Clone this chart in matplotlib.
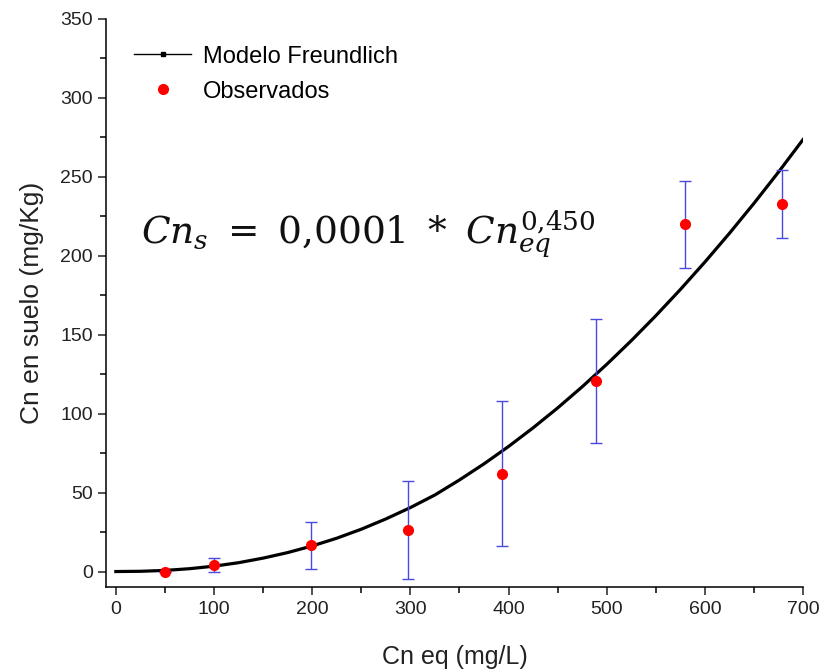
import matplotlib.pyplot as plt
from matplotlib.lines import Line2D
from matplotlib.ticker import MultipleLocator

# Observed adsorption data (mean and spread)
cn_eq_obs = [50, 100, 199, 298, 393, 489, 580, 679]
cn_suelo_obs = [0.0, 4.2, 16.5, 26.5, 62.0, 120.7, 220.0, 232.7]
cn_suelo_err = [0.0, 4.5, 15.0, 31.0, 46.0, 39.5, 27.5, 21.7]

# Freundlich model curve
cn_eq_model = [0, 25, 50, 75, 100, 125, 150, 175, 200, 225, 250, 275, 300, 325, 350,
               375, 400, 425, 450, 475, 500, 525, 550, 575, 600, 625, 650, 675, 700]
cn_suelo_model = [0.0, 0.15, 0.7, 1.8, 3.4, 5.6, 8.5, 12.0, 16.2, 21.1, 26.8, 33.3, 40.5, 48.5, 58.0,
                  68.2, 79.2, 91.0, 103.6, 117.0, 131.2, 146.2, 162.0, 178.6, 196.0, 214.2, 233.2, 253.0, 273.6]

plt.rcParams["font.family"] = ["Liberation Sans", "DejaVu Sans"]
plt.rcParams["mathtext.fontset"] = "dejavuserif"

fig = plt.figure(figsize=(8.22, 6.72), dpi=100)
ax = fig.add_axes([0.129, 0.126, 0.848, 0.846])

ax.plot(cn_eq_model, cn_suelo_model, color="black", lw=2.3, solid_joinstyle="round", zorder=2)
ax.errorbar(cn_eq_obs, cn_suelo_obs, yerr=cn_suelo_err, fmt="none",
            ecolor="#4a4ae0", elinewidth=1.0, capsize=4, capthick=1.0, zorder=3)
ax.plot(cn_eq_obs, cn_suelo_obs, "o", color="#ff0000", markersize=7, zorder=4)

ax.set_xlim(-10, 700)
ax.set_ylim(-10, 350)
ax.xaxis.set_major_locator(MultipleLocator(100))
ax.xaxis.set_minor_locator(MultipleLocator(50))
ax.yaxis.set_major_locator(MultipleLocator(50))
ax.yaxis.set_minor_locator(MultipleLocator(25))
ax.tick_params(which="major", direction="out", length=6, width=1.1, labelsize=14, colors="#222222")
ax.tick_params(which="minor", direction="out", length=4, width=1.1)
ax.spines["top"].set_visible(False)
ax.spines["right"].set_visible(False)
for s in ("left", "bottom"):
    ax.spines[s].set_linewidth(1.1)

ax.set_xlabel("Cn eq (mg/L)", fontsize=18, color="#222222", labelpad=20)
ax.set_ylabel("Cn en suelo (mg/Kg)", fontsize=19, color="#222222", labelpad=12)

handles = [
    Line2D([], [], color="black", lw=1.0, marker="s", markersize=2.5),
    Line2D([], [], color="#ff0000", marker="o", markersize=7, linestyle="none"),
]
ax.legend(handles, ["Modelo Freundlich", "Observados"], loc="upper left",
          bbox_to_anchor=(0.01, 0.99), frameon=False, fontsize=17,
          handlelength=2.4, handletextpad=0.5, labelspacing=0.55)

ax.text(0.05, 0.605, r"$Cn_s\ =\ 0{,}0001\ *\ Cn_{eq}^{0{,}450}$", transform=ax.transAxes,
        fontsize=27, color="#111111", va="baseline")

fig.savefig("out.png", dpi=100)
